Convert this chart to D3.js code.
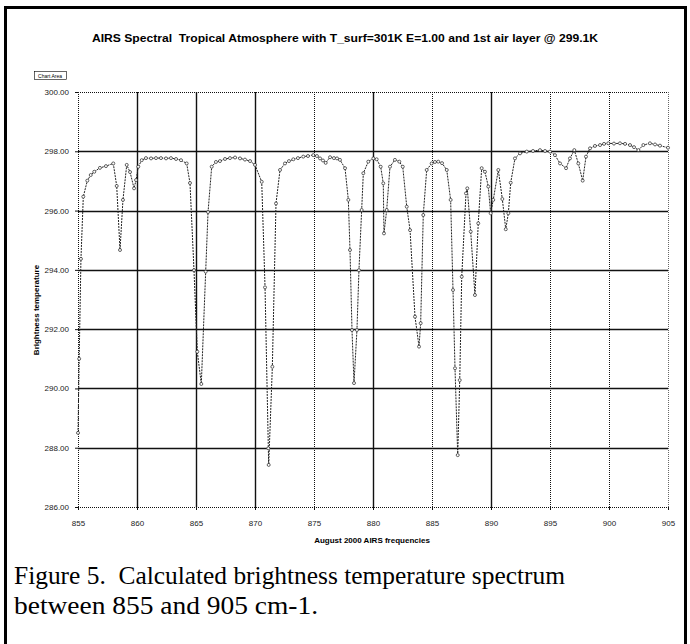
<!DOCTYPE html>
<html><head><meta charset="utf-8">
<script src="https://cdn.jsdelivr.net/npm/d3@7"></script>
<style>html,body{margin:0;padding:0;background:#fff;}svg{display:block;}</style>
</head><body>
<svg id="c" width="690" height="644"></svg>
<script>
const titleText = "AIRS Spectral  Tropical Atmosphere with T_surf=301K E=1.00 and 1st air layer @ 299.1K";
const xLabel = "August 2000 AIRS frequencies";
const yLabel = "Brightness temperature";
const captionLines = ["Figure 5.  Calculated brightness temperature spectrum", "between 855 and 905 cm-1."];
const xTicks = [855,860,865,870,875,880,885,890,895,900,905];
const yTicks = [286,288,290,292,294,296,298,300];
const xSolid = [860,865,870,880,890];
const ySolid = [288,290,292,294,296,298];

const freqs = [855.0,855.1,855.25,855.45,855.79,856.08,856.38,856.86,857.37,857.99,858.28,858.56,858.81,859.13,859.41,859.75,859.92,860.11,860.4,860.76,861.19,861.61,862.03,862.46,862.88,863.31,863.73,864.21,864.49,864.83,865.11,865.45,865.82,866.02,866.33,866.69,867.03,867.46,867.88,868.31,868.73,869.15,869.58,870.0,870.57,870.85,871.13,871.16,871.47,871.78,872.12,872.54,872.88,873.25,873.64,874.09,874.49,874.94,875.25,875.51,875.76,875.99,876.36,876.69,876.95,877.2,877.63,877.91,878.05,878.22,878.39,878.64,878.81,879.04,879.18,879.6,880.03,880.31,880.65,880.87,880.93,881.16,881.44,881.86,882.23,882.52,882.86,883.14,883.56,883.9,884.04,884.26,884.55,884.97,885.25,885.53,885.85,886.25,886.58,886.78,886.95,887.18,887.35,887.52,887.88,887.99,888.28,888.64,888.92,889.21,889.49,889.77,889.97,890.19,890.62,890.96,891.25,891.47,891.67,892.03,892.46,893.03,893.56,894.15,894.58,895.0,895.42,895.85,896.36,896.69,897.06,897.4,897.77,898.05,898.39,898.81,899.24,899.58,899.94,900.42,900.93,901.36,901.78,902.12,902.49,902.91,903.47,903.9,904.32,905.0];
const temps = [288.5,291.0,294.37,296.47,297.01,297.2,297.31,297.44,297.5,297.59,296.83,294.67,296.36,297.54,297.3,296.75,297.03,297.48,297.7,297.77,297.76,297.77,297.77,297.76,297.77,297.74,297.7,297.59,296.93,293.99,291.24,290.15,293.94,295.95,297.48,297.64,297.67,297.74,297.77,297.79,297.76,297.72,297.67,297.54,296.97,293.41,287.98,287.42,290.73,296.24,297.37,297.59,297.67,297.73,297.77,297.82,297.84,297.87,297.84,297.76,297.69,297.61,297.8,297.77,297.76,297.71,297.43,296.36,294.67,291.97,290.18,291.97,293.99,296.02,297.26,297.65,297.76,297.73,297.48,296.92,295.23,296.02,297.48,297.71,297.65,297.48,296.13,295.34,292.42,291.41,292.2,295.85,297.37,297.59,297.64,297.65,297.6,297.37,296.36,293.32,290.68,287.75,290.28,293.77,296.58,296.75,295.29,293.15,295.57,297.43,297.31,296.81,295.91,296.36,297.37,296.39,295.37,295.91,296.94,297.76,297.93,297.99,298.01,298.04,298.01,297.99,297.87,297.59,297.43,297.76,298.04,297.59,297.01,297.82,298.1,298.18,298.21,298.25,298.27,298.26,298.27,298.25,298.21,298.14,298.04,298.21,298.27,298.23,298.19,298.12];

const svg = d3.select("#c");
const font = "'Liberation Sans', Arial, sans-serif";

// outer frame
svg.append("rect").attr("x",5.5).attr("y",7.5).attr("width",680).attr("height",640)
  .attr("fill","none").attr("stroke","#000").attr("stroke-width",3);

const x = d3.scaleLinear().domain([855,905]).range([78,668]);
const y = d3.scaleLinear().domain([286,300]).range([507,92]);

// title
svg.append("text").attr("x",345).attr("y",42).attr("text-anchor","middle")
  .attr("font-family",font).attr("font-weight","bold").attr("font-size",10.5)
  .attr("textLength",506).attr("lengthAdjust","spacingAndGlyphs")
  .style("white-space","pre").text(titleText);

// chart area tag
svg.append("rect").attr("x",34.5).attr("y",71.5).attr("width",32).attr("height",8)
  .attr("fill","#fff").attr("stroke","#000").attr("stroke-width",0.6);
svg.append("text").attr("x",50).attr("y",78).attr("text-anchor","middle")
  .attr("font-family",font).attr("font-size",5).text("Chart Area");

// grid
const g = svg.append("g");
yTicks.forEach(v => {
  const solid = ySolid.includes(v);
  g.append("line").attr("x1",x(855)).attr("x2",x(905)).attr("y1",Math.round(y(v))+0.5).attr("y2",Math.round(y(v))+0.5)
   .attr("stroke","#111").attr("stroke-width", solid?1.4:1)
   .attr("stroke-dasharray", solid?null:"1,1");
});
xTicks.forEach(v => {
  const solid = xSolid.includes(v);
  g.append("line").attr("y1",y(300)).attr("y2",y(286)).attr("x1",Math.round(x(v))+0.5).attr("x2",Math.round(x(v))+0.5)
   .attr("stroke", v===905?"#666":"#111").attr("stroke-width", solid?1.4:1)
   .attr("stroke-dasharray", solid?null:"1,1");
});

// axes
const yAxis = d3.axisLeft(y).tickValues(yTicks).tickSize(3).tickFormat(d3.format(".2f"));
const ya = svg.append("g").attr("transform",`translate(${x(855)},0)`).call(yAxis);
ya.select(".domain").remove();
ya.selectAll("text").attr("font-family",font).attr("font-size",8).attr("fill","#222").attr("dx",-3);
ya.selectAll("line").attr("stroke","#111");

const xAxis = d3.axisBottom(x).tickValues(xTicks).tickSize(3).tickFormat(d3.format("d"));
const xa = svg.append("g").attr("transform",`translate(0,${y(286)})`).call(xAxis);
xa.select(".domain").remove();
xa.selectAll("text").attr("font-family",font).attr("font-size",8).attr("fill","#222").attr("dy","1.6em");
xa.selectAll("line").attr("stroke","#111");

// axis titles
svg.append("text").attr("x",372).attr("y",543).attr("text-anchor","middle")
  .attr("font-family",font).attr("font-weight","bold").attr("font-size",8).text(xLabel);
svg.append("text").attr("transform","translate(39,310) rotate(-90)").attr("text-anchor","middle")
  .attr("font-family",font).attr("font-weight","bold").attr("font-size",8).text(yLabel);

// series
const data = freqs.map((f,i)=>({f, t:temps[i]}));
const line = d3.line().x(d=>x(d.f)).y(d=>y(d.t));
svg.append("path").datum(data).attr("d",line).attr("fill","none")
  .attr("stroke","#222").attr("stroke-width",1).attr("stroke-dasharray","2,1");
svg.append("g").selectAll("circle").data(data).join("circle")
  .attr("cx",d=>x(d.f)).attr("cy",d=>y(d.t)).attr("r",1.5)
  .attr("fill","#fff").attr("stroke","#222").attr("stroke-width",0.7);

// caption
const capW = [551, 304];
captionLines.forEach((t,i)=>{
  svg.append("text").attr("x",14).attr("y",584+i*30)
    .attr("font-family","'Liberation Serif','Times New Roman',serif").attr("font-size",25)
    .attr("textLength",capW[i]).attr("lengthAdjust","spacingAndGlyphs")
    .style("white-space","pre").text(t);
});
</script>
</body></html>
